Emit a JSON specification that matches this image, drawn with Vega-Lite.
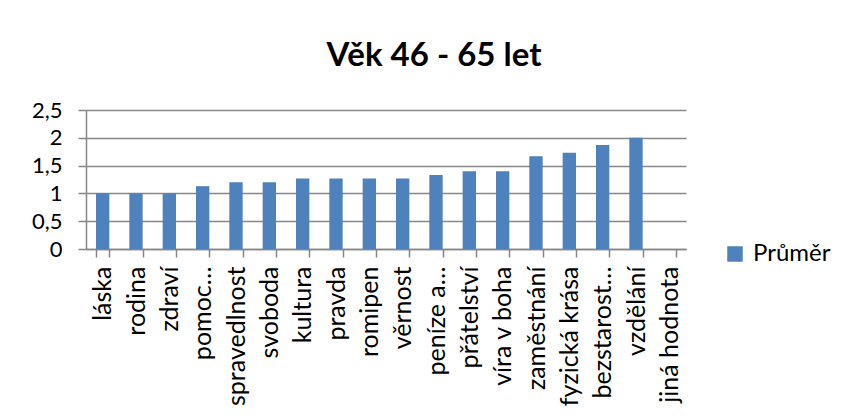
{
  "$schema": "https://vega.github.io/schema/vega-lite/v6.json",
  "width": 600,
  "height": 139,
  "autosize": "none",
  "padding": {"left": 86, "top": 110, "right": 157, "bottom": 169},
  "background": "white",
  "title": {
    "text": "Věk 46 - 65 let",
    "font": "Lato",
    "fontSize": 33,
    "fontWeight": "bold",
    "color": "black",
    "anchor": "middle",
    "dx": 48,
    "offset": 26
  },
  "data": {
    "values": [
      {"kategorie": "láska", "prumer": 1, "rada": "Průměr"},
      {"kategorie": "rodina", "prumer": 1, "rada": "Průměr"},
      {"kategorie": "zdraví", "prumer": 1, "rada": "Průměr"},
      {"kategorie": "pomoc…", "prumer": 1.13, "rada": "Průměr"},
      {"kategorie": "spravedlnost", "prumer": 1.2, "rada": "Průměr"},
      {"kategorie": "svoboda", "prumer": 1.2, "rada": "Průměr"},
      {"kategorie": "kultura", "prumer": 1.27, "rada": "Průměr"},
      {"kategorie": "pravda", "prumer": 1.27, "rada": "Průměr"},
      {"kategorie": "romipen", "prumer": 1.27, "rada": "Průměr"},
      {"kategorie": "věrnost", "prumer": 1.27, "rada": "Průměr"},
      {"kategorie": "peníze a…", "prumer": 1.33, "rada": "Průměr"},
      {"kategorie": "přátelství", "prumer": 1.4, "rada": "Průměr"},
      {"kategorie": "víra v boha", "prumer": 1.4, "rada": "Průměr"},
      {"kategorie": "zaměstnání", "prumer": 1.67, "rada": "Průměr"},
      {"kategorie": "fyzická krása", "prumer": 1.73, "rada": "Průměr"},
      {"kategorie": "bezstarost…", "prumer": 1.87, "rada": "Průměr"},
      {"kategorie": "vzdělání", "prumer": 2, "rada": "Průměr"},
      {"kategorie": "jiná hodnota", "prumer": 0, "rada": "Průměr"}
    ]
  },
  "mark": {"type": "bar"},
  "encoding": {
    "x": {
      "field": "kategorie",
      "type": "nominal",
      "sort": null,
      "scale": {"paddingInner": 0.6, "paddingOuter": 0.3},
      "axis": {
        "title": null,
        "labelAngle": -90,
        "labelAlign": "right",
        "labelBaseline": "middle",
        "labelFont": "Lato",
        "labelFontSize": 25,
        "labelColor": "black",
        "labelPadding": 9,
        "tickBand": "extent",
        "tickSize": 8,
        "tickColor": "#868686",
        "tickWidth": 1.5,
        "domainColor": "#868686",
        "domainWidth": 1.5,
        "grid": false,
        "labelLimit": 200
      }
    },
    "y": {
      "field": "prumer",
      "type": "quantitative",
      "scale": {"domain": [0, 2.5], "nice": false},
      "axis": {
        "title": null,
        "values": [0, 0.5, 1, 1.5, 2, 2.5],
        "labelExpr": "replace(format(datum.value, '~g'), '.', ',')",
        "labelFont": "Lato",
        "labelFontSize": 22,
        "labelColor": "black",
        "labelPadding": 16,
        "tickSize": 8,
        "tickColor": "#868686",
        "tickWidth": 1.5,
        "domainColor": "#868686",
        "domainWidth": 1.5,
        "grid": true,
        "gridColor": "#868686",
        "gridWidth": 1.5
      }
    },
    "color": {
      "field": "rada",
      "type": "nominal",
      "scale": {"range": ["#4F81BD"]},
      "legend": {
        "title": null,
        "orient": "none",
        "legendX": 637,
        "legendY": 132,
        "symbolType": "square",
        "symbolSize": 240,
        "symbolStrokeWidth": 0,
        "labelFont": "Lato",
        "labelFontSize": 24,
        "labelColor": "black",
        "labelOffset": 6,
        "padding": 0
      }
    }
  },
  "config": {
    "view": {"stroke": null}
  }
}
